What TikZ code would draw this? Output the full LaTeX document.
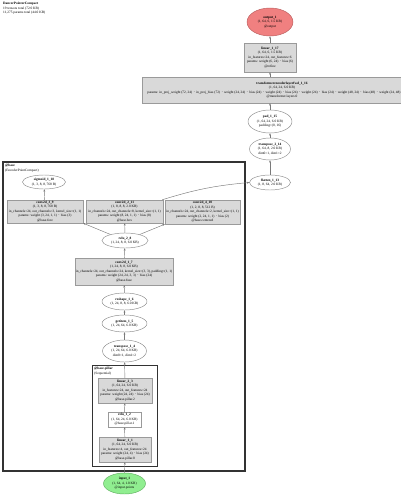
\documentclass[tikz,border=0pt]{standalone}
\usepackage{fontspec}
\setmainfont{Liberation Serif}
\usetikzlibrary{shapes.geometric,arrows.meta}
\definecolor{boxfill}{HTML}{D9D9D9}
\definecolor{boxdraw}{HTML}{9A9A9A}
\definecolor{ovaldraw}{HTML}{8C8C8C}
\definecolor{edgecol}{HTML}{7A7A7A}
\definecolor{outfill}{HTML}{F08080}
\definecolor{outdraw}{HTML}{B85C5C}
\definecolor{infill}{HTML}{90EE90}
\definecolor{indraw}{HTML}{5FAF5F}
\definecolor{clusterdraw}{HTML}{333333}
\newcommand\zl[1]{\makebox[0pt]{#1}}
\begin{document}
\begin{tikzpicture}[x=1pt,y=-1pt,font=\fontsize{3.45}{4.45}\selectfont,
  gbox/.style={rectangle,draw=boxdraw,fill=boxfill,line width=0.45pt,inner sep=0pt,align=center},
  wbox/.style={rectangle,draw=boxdraw,fill=white,line width=0.45pt,inner sep=0pt,align=center},
  oval/.style={ellipse,draw=ovaldraw,fill=white,line width=0.45pt,inner sep=0pt,align=center},
  link/.style={draw=edgecol,line width=0.45pt,-{Stealth[length=2.4pt,width=1.9pt]}},
  outer/.style={draw=clusterdraw,line width=1.4pt},
  inner/.style={draw=clusterdraw,line width=1pt},
  lbl/.style={anchor=north west,align=left,inner sep=0pt}]
\useasboundingbox (0,0) rectangle (400,497);
% title
\node[lbl] (title) at (3,2) {\textbf{DancerPointerCompact}\\19 tensors total (72.0 KB)\\11,275 params total (44.0 KB)};
% clusters
\draw[outer] (3,162) rectangle (245,471);
\node[lbl] (outerlbl) at (5,164) {\textbf{@base}\\(EncoderPointCompact)};
\draw[inner] (92,365) rectangle (157,466);
\node[lbl] (innerlbl) at (94,367) {\textbf{@base.pillar}\\(Sequential)};
% nodes
\node[oval,fill=outfill,draw=outdraw,minimum width=46pt,minimum height=28pt] (out) at (270,22)
  {\zl{\textbf{output\_1}}\\\zl{(1, 64, 6, 1.5 KB)}\\\zl{@output}};
\node[gbox,minimum width=52pt,minimum height=29pt] (lin17) at (270,57.5)
  {\zl{\textbf{linear\_1\_17}}\\\zl{(1, 64, 6, 1.5 KB)}\\\zl{in\_features=24, out\_features=6}\\\zl{params: weight (6, 24) $\cdot$ bias (6)}\\\zl{@refine}};
\node[gbox,minimum width=280pt,minimum height=26pt] (tr) at (282,90)
  {\zl{\textbf{transformerencoderlayerfwd\_1\_16}}\\\zl{(1, 64, 24, 6.0 KB)}\\\zl{params: in\_proj\_weight (72, 24) $\cdot$ in\_proj\_bias (72) $\cdot$ weight (24, 24) $\cdot$ bias (24) $\cdot$ weight (24) $\cdot$ bias (24) $\cdot$ weight (24) $\cdot$ bias (24) $\cdot$ weight (48, 24) $\cdot$ bias (48) $\cdot$ weight (24, 48) $\cdot$ bias (24)}\\\zl{@transformer.layers.0}};
\node[oval,minimum width=44pt,minimum height=23pt] (pad) at (270,121.5)
  {\zl{\textbf{pad\_1\_15}}\\\zl{(1, 64, 24, 6.0 KB)}\\\zl{padding=(0, 16)}};
\node[oval,minimum width=41pt,minimum height=22pt] (tp2) at (270,149)
  {\zl{\textbf{transpose\_2\_14}}\\\zl{(1, 64, 8, 2.0 KB)}\\\zl{dim0=1, dim1=2}};
\node[oval,minimum width=41pt,minimum height=15pt] (flat) at (270,182.5)
  {\zl{\textbf{flatten\_1\_13}}\\\zl{(1, 8, 64, 2.0 KB)}};
\node[oval,minimum width=43pt,minimum height=14pt] (sig) at (44,182)
  {\zl{\textbf{sigmoid\_1\_18}}\\\zl{(1, 3, 8, 8, 768 B)}};
\node[gbox,minimum width=76pt,minimum height=23pt] (c3) at (45,211.5)
  {\zl{\textbf{conv2d\_3\_9}}\\\zl{(1, 3, 8, 8, 768 B)}\\\zl{in\_channels=24, out\_channels=3, kernel\_size=(1, 1)}\\\zl{params: weight (3, 24, 1, 1) $\cdot$ bias (3)}\\\zl{@base.fore}};
\node[gbox,minimum width=77pt,minimum height=23pt] (c2) at (124.5,211.5)
  {\zl{\textbf{conv2d\_2\_11}}\\\zl{(1, 8, 8, 8, 2.0 KB)}\\\zl{in\_channels=24, out\_channels=8, kernel\_size=(1, 1)}\\\zl{params: weight (8, 24, 1, 1) $\cdot$ bias (8)}\\\zl{@base.box}};
\node[gbox,minimum width=75pt,minimum height=24pt] (c4) at (202.5,212)
  {\zl{\textbf{conv2d\_4\_10}}\\\zl{(1, 2, 8, 8, 512 B)}\\\zl{in\_channels=24, out\_channels=2, kernel\_size=(1, 1)}\\\zl{params: weight (2, 24, 1, 1) $\cdot$ bias (2)}\\\zl{@base.centered}};
\node[oval,minimum width=46pt,minimum height=15pt] (relu2) at (125,240.5)
  {\zl{\textbf{relu\_2\_8}}\\\zl{(1, 24, 8, 8, 6.0 KB)}};
\node[gbox,minimum width=98pt,minimum height=27pt] (c1) at (124,271.5)
  {\zl{\textbf{conv2d\_1\_7}}\\\zl{(1, 24, 8, 8, 6.0 KB)}\\\zl{in\_channels=24, out\_channels=24, kernel\_size=(3, 3), padding=(1, 1)}\\\zl{params: weight (24, 24, 3, 3) $\cdot$ bias (24)}\\\zl{@base.fuse}};
\node[oval,minimum width=45pt,minimum height=17pt] (resh) at (124.5,301.5)
  {\zl{\textbf{reshape\_1\_6}}\\\zl{(1, 24, 8, 8, 6.0 KB)}};
\node[oval,minimum width=45pt,minimum height=17pt] (gi) at (124.5,323.5)
  {\zl{\textbf{getitem\_1\_5}}\\\zl{(1, 24, 64, 6.0 KB)}};
\node[oval,minimum width=44pt,minimum height=22pt] (tp1) at (124.5,351)
  {\zl{\textbf{transpose\_1\_4}}\\\zl{(1, 24, 64, 6.0 KB)}\\\zl{dim0=1, dim1=2}};
\node[gbox,minimum width=54pt,minimum height=25pt] (lin3) at (125,390.5)
  {\zl{\textbf{linear\_2\_3}}\\\zl{(1, 64, 24, 6.0 KB)}\\\zl{in\_features=24, out\_features=24}\\\zl{params: weight (24, 24) $\cdot$ bias (24)}\\\zl{@base.pillar.2}};
\node[wbox,minimum width=33pt,minimum height=15pt] (relu1) at (124.5,419.5)
  {\zl{\textbf{relu\_1\_2}}\\\zl{(1, 64, 24, 6.0 KB)}\\\zl{@base.pillar.1}};
\node[gbox,minimum width=52pt,minimum height=25pt] (lin1) at (125,449.5)
  {\zl{\textbf{linear\_1\_1}}\\\zl{(1, 64, 24, 6.0 KB)}\\\zl{in\_features=4, out\_features=24}\\\zl{params: weight (24, 4) $\cdot$ bias (24)}\\\zl{@base.pillar.0}};
\node[oval,fill=infill,draw=indraw,minimum width=42pt,minimum height=21pt] (inp) at (124.5,483.5)
  {\zl{\textbf{input\_1}}\\\zl{(1, 64, 4, 1.0 KB)}\\\zl{@input.points}};
% edges
\draw[link] (inp) -- (lin1);
\draw[link] (lin1) -- (relu1);
\draw[link] (relu1) -- (lin3);
\draw[link] (lin3) -- (tp1);
\draw[link] (tp1) -- (gi);
\draw[link] (gi) -- (resh);
\draw[link] (resh) -- (c1);
\draw[link] (c1) -- (relu2);
\draw[link] (relu2) -- (c3.south east);
\draw[link] (relu2) -- (c2);
\draw[link] (relu2) -- (c4.south west);
\draw[link] (c3) -- (sig);
\draw[link] ([xshift=-1pt]c2.north east) to[bend left=6] (flat.west);
\draw[link] (flat) -- (tp2);
\draw[link] (tp2) -- (pad);
\draw[link] (pad.north) -- (pad.north |- tr.south);
\draw[link] (tr.north -| lin17) -- (lin17.south);
\draw[link] (lin17) -- (out);
\end{tikzpicture}
\end{document}
